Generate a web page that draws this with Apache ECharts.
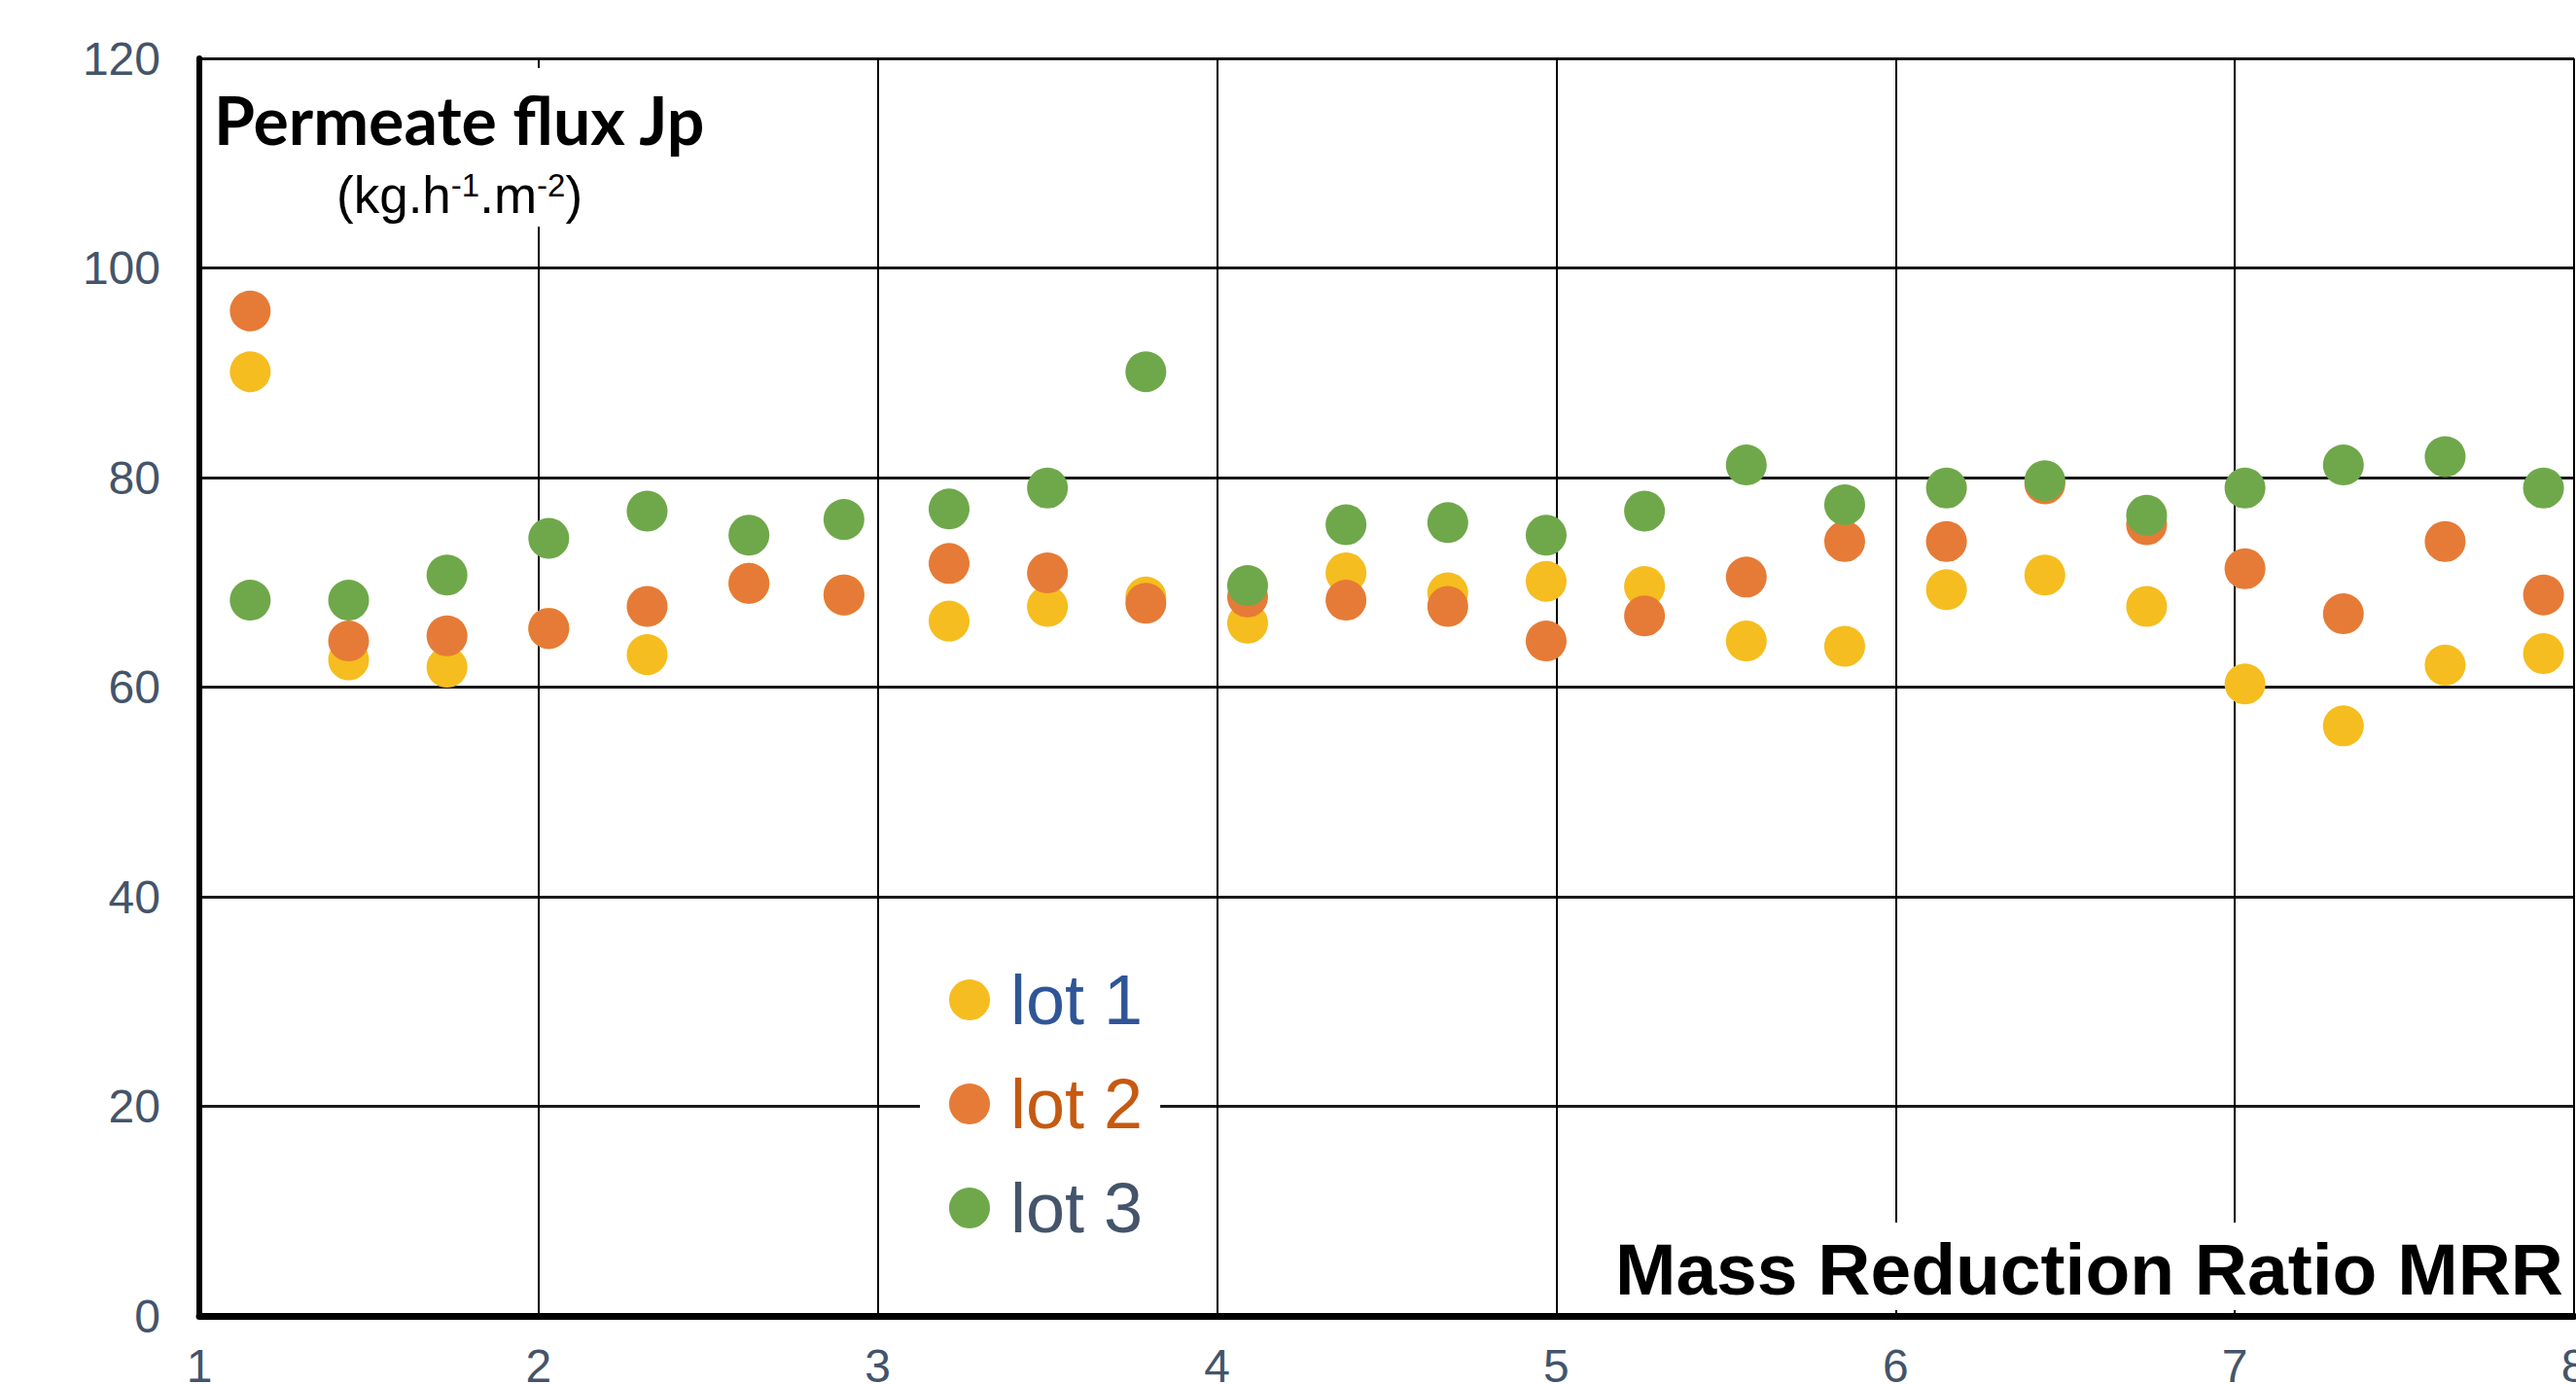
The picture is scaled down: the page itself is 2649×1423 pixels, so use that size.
<!DOCTYPE html>
<html><head><meta charset="utf-8">
<script src="https://cdn.jsdelivr.net/npm/echarts@6/dist/echarts.min.js"></script>
<style>html,body{margin:0;padding:0;background:#fff}#c{width:2649px;height:1423px}</style>
</head><body><div id="c"></div>
<script>
// Mass Reduction Ratio (x) for each measurement
const mrr = [1.15, 1.44, 1.73, 2.03, 2.32, 2.62, 2.90, 3.21, 3.50, 3.79, 4.09, 4.38, 4.68, 4.97, 5.26, 5.56, 5.85, 6.15, 6.44, 6.74, 7.03, 7.32, 7.62, 7.91];
// Permeate flux Jp (kg.h-1.m-2)
const lot1 = [90.1, 62.6, 61.9, 65.6, 63.1, 69.9, 68.8, 66.3, 67.7, 68.6, 66.1, 70.9, 69.0, 70.1, 69.6, 64.4, 63.9, 69.3, 70.7, 67.7, 60.3, 56.3, 62.1, 63.2];
const lot2 = [95.9, 64.4, 64.9, 65.6, 67.7, 69.9, 68.8, 71.8, 70.9, 68.0, 68.6, 68.3, 67.7, 64.4, 66.8, 70.5, 73.9, 73.9, 79.4, 75.5, 71.3, 67.0, 73.9, 68.8];
const lot3 = [68.3, 68.3, 70.7, 74.2, 76.8, 74.5, 76.0, 77.0, 79.0, 90.1, 69.7, 75.5, 75.7, 74.5, 76.8, 81.2, 77.4, 79.0, 79.7, 76.4, 79.0, 81.2, 82.0, 79.0];
const seriesNames = ['lot 1', 'lot 2', 'lot 3'];
const seriesValues = [lot1, lot2, lot3];
const yMin = 0, yMax = 120, yStep = 20;
const xMin = 1, xMax = 8, xStep = 1;
const yTitle = 'Permeate flux Jp';
const yUnit = '(kg.h{sup|-1}.m{sup|-2})';
const xTitle = 'Mass Reduction Ratio MRR';

const colors = ['#F5BD1F', '#E67B37', '#6FA84A'];
const legendTextColors = ['#2F5597', '#C55A11', '#44546A'];
const tickColor = '#44546A';

const chart = echarts.init(document.getElementById('c'), null, {renderer: 'svg'});
chart.setOption({
  animation: false,
  backgroundColor: '#fff',
  grid: {left: 205, right: 2, top: 60, bottom: 70, containLabel: false, outerBoundsMode: 'none'},
  xAxis: {
    type: 'value', min: xMin, max: xMax, interval: xStep,
    axisLine: {show: true, onZero: false, lineStyle: {color: '#000', width: 7}},
    axisTick: {show: false},
    axisLabel: {margin: 33, lineHeight: 36, color: tickColor, fontFamily: 'Liberation Sans', fontSize: 48, showMinLabel: true, showMaxLabel: true},
    splitLine: {show: true, lineStyle: {color: '#000', width: 2}}
  },
  yAxis: {
    type: 'value', min: yMin, max: yMax, interval: yStep,
    axisLine: {show: true, onZero: false, lineStyle: {color: '#000', width: 6}},
    axisTick: {show: false},
    axisLabel: {margin: 40, color: tickColor, fontFamily: 'Liberation Sans', fontSize: 48, showMinLabel: true, showMaxLabel: true},
    splitLine: {show: true, lineStyle: {color: '#1a1a1a', width: 3}}
  },
  legend: {
    orient: 'vertical', left: 946, top: 972,
    padding: [20, 18, 20, 30], backgroundColor: '#fff',
    itemWidth: 74, itemHeight: 42, itemGap: 35,
    selectedMode: false, icon: 'circle',
    textStyle: {fontFamily: 'Liberation Sans', fontSize: 72, lineHeight: 70},
    data: seriesNames.map((n, i) => ({name: n, textStyle: {color: legendTextColors[i]}}))
  },
  graphic: [
    {type: 'rect', z: 100, shape: {x: 210, y: 70, width: 540, height: 163}, style: {fill: '#fff'}},
    {type: 'text', z: 101, x: 220, y: 122, style: {text: yTitle, fontFamily: 'Lato', fontWeight: 'bold', fontSize: 68, fill: '#000', align: 'left', verticalAlign: 'middle'}},
    {type: 'text', z: 101, x: 346, y: 200, style: {
      text: yUnit, fontFamily: 'Liberation Sans', fontSize: 53, fill: '#000', align: 'left', verticalAlign: 'middle',
      rich: {
        sup: {fontFamily: 'Liberation Sans', fontSize: 33, lineHeight: 30, verticalAlign: 'top', fill: '#000'}
      }
    }},
    {type: 'rect', z: 100, shape: {x: 1660, y: 1257, width: 986, height: 90}, style: {fill: '#fff'}},
    {type: 'text', z: 101, x: 2636, y: 1305, style: {text: xTitle, fontFamily: 'Liberation Sans', fontWeight: 'bold', fontSize: 75, fill: '#000', align: 'right', verticalAlign: 'middle'}}
  ],
  series: seriesNames.map((n, i) => ({
    name: n, type: 'scatter', symbol: 'circle', symbolSize: 42,
    itemStyle: {color: colors[i], opacity: 1},
    emphasis: {disabled: true},
    data: mrr.map((x, j) => [x, seriesValues[i][j]])
  }))
});
</script>
</body></html>
